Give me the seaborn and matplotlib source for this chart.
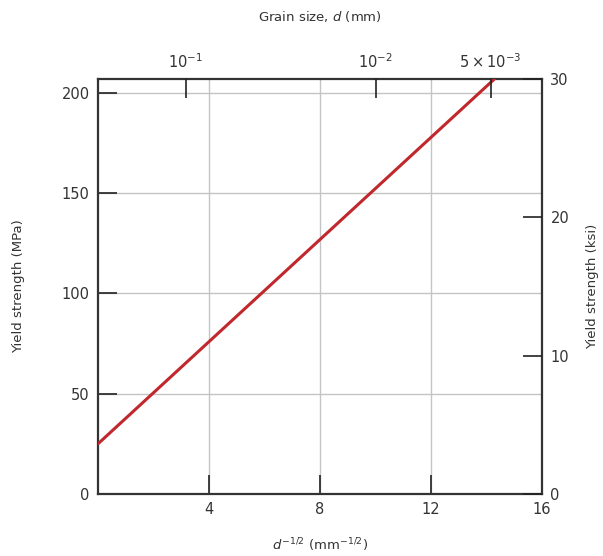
import numpy as np
import matplotlib
matplotlib.use("Agg")
import matplotlib.pyplot as plt
import seaborn as sns

# Hall-Petch line
d_inv_sqrt = [0.0, 14.3]          # d^-1/2 (mm^-1/2)
yield_mpa = [25.0, 207.0]         # MPa

# top axis: grain size d (mm)
grain_sizes = [1e-1, 1e-2, 5e-3]
grain_labels = [r"$10^{-1}$", r"$10^{-2}$", r"$5\times10^{-3}$"]

x_ticks = [4, 8, 12, 16]
mpa_ticks = [0, 50, 100, 150, 200]
ksi_ticks = [0, 10, 20, 30]

sns.set_style("white")
plt.rcParams["font.family"] = ["DejaVu Sans"]
plt.rcParams["mathtext.fontset"] = "dejavusans"

fig = plt.figure(figsize=(6.03, 5.56), dpi=100)
ax = fig.add_axes([0.1625, 0.1115, 0.7365, 0.7465])

sns.lineplot(x=d_inv_sqrt, y=yield_mpa, ax=ax, color="#c0282d", lw=2.2, zorder=3)

ax.set_xlim(0, 16)
ax.set_ylim(0, 206.8)
ax.set_xticks(x_ticks)
ax.set_yticks(mpa_ticks)
ax.set_xticklabels(["4", "8", "12", "16"])
ax.grid(True, color="#c4c4c4", lw=1)
ax.tick_params(direction="in", length=14, width=1.2, color="#222222",
               labelsize=10.5, labelcolor="#333333", pad=6)
for s in ax.spines.values():
    s.set_color("#333333")
    s.set_linewidth(1.6)

ax.set_xlabel(r"$d^{-1/2}$ (mm$^{-1/2}$)", fontsize=9.5, color="#333333", labelpad=14)
ax.set_ylabel("Yield strength (MPa)", fontsize=9.5, color="#333333", labelpad=26)

# right axis in ksi
ax2 = ax.twinx()
ax2.set_ylim(0, 30)
ax2.set_yticks(ksi_ticks)
ax2.tick_params(direction="in", length=14, width=1.2, color="#222222",
                labelsize=10.5, labelcolor="#333333", pad=6)
ax2.set_ylabel("Yield strength (ksi)", fontsize=9.5, color="#333333", labelpad=12)
ax2.grid(False)
for s in ax2.spines.values():
    s.set_visible(False)

# top axis in grain size
ax3 = ax.twiny()
ax3.set_xlim(0, 16)
ax3.set_xticks([g ** -0.5 for g in grain_sizes])
ax3.set_xticklabels(grain_labels)
ax3.tick_params(direction="in", length=14, width=1.2, color="#222222",
                labelsize=10.5, labelcolor="#333333", pad=6)
ax3.set_xlabel(r"Grain size, $d$ (mm)", fontsize=9.5, color="#333333", labelpad=22)
ax3.grid(False)
for s in ax3.spines.values():
    s.set_visible(False)

fig.savefig("out.png", dpi=100)
